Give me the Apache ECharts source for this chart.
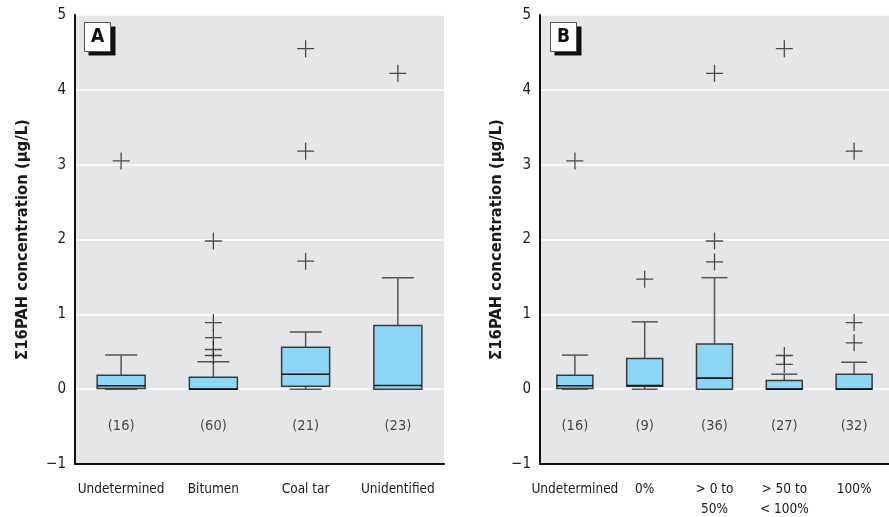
<!DOCTYPE html>
<html><head><meta charset="utf-8">
<script src="https://cdn.jsdelivr.net/npm/echarts@6/dist/echarts.min.js"></script>
<style>html,body{margin:0;padding:0;background:#fff}#c{width:889px;height:517px}</style>
</head><body><div id="c"></div>
<script>
// ---- data ----
var catsA = ['Undetermined', 'Bitumen', 'Coal tar', 'Unidentified'];
// [min, q1, median, q3, max]
var boxA = [
  [0, 0.01, 0.045, 0.185, 0.455],
  [0, 0, 0.0, 0.16, 0.365],
  [0, 0.04, 0.2, 0.56, 0.765],
  [0, 0, 0.05, 0.85, 1.49]
];
var outliersA = [[0, 3.05], [1, 0.45], [1, 0.53], [1, 0.69], [1, 0.89], [1, 1.98],
  [2, 1.71], [2, 3.18], [2, 4.55], [3, 4.22]];
var countsA = ['(16)', '(60)', '(21)', '(23)'];

var catsB = ['Undetermined', '0%', '> 0 to\n50%', '> 50 to\n< 100%', '100%'];
var boxB = [
  [0, 0.01, 0.045, 0.185, 0.455],
  [0, 0.04, 0.05, 0.41, 0.90],
  [0, 0, 0.148, 0.605, 1.49],
  [0, 0, 0, 0.117, 0.2],
  [0, 0, 0, 0.2, 0.36]
];
var outliersB = [[0, 3.05], [1, 1.47], [2, 1.70], [2, 1.98], [2, 4.22],
  [3, 0.33], [3, 0.45], [3, 4.55], [4, 0.62], [4, 0.89], [4, 3.18]];
var countsB = ['(16)', '(9)', '(36)', '(27)', '(32)'];

var yTicks = [-1, 0, 1, 2, 3, 4, 5];
var countLevel = -0.5;
var yName = '\u03A316PAH concentration (\u00B5g/L)';

// ---- chart ----
var FONT = '"DejaVu Sans Condensed", "Roboto", sans-serif';
var BG = '#e5e6e8';
var BOXFILL = '#8dd7f6';

function boxData(arr) { return arr.map(function (b, i) { return [i].concat(b); }); }
function countData(arr) { return arr.map(function (c, i) { return { value: [i, countLevel], name: c }; }); }

function makeRender(boxW, capW) {
  return function (params, api) {
    var i = api.value(0);
    var pMin = api.coord([i, api.value(1)]);
    var pQ1 = api.coord([i, api.value(2)]);
    var pMed = api.coord([i, api.value(3)]);
    var pQ3 = api.coord([i, api.value(4)]);
    var pMax = api.coord([i, api.value(5)]);
    var x = pMed[0];
    var wStyle = { stroke: '#555', lineWidth: 1.5 };
    return {
      type: 'group',
      children: [
        { type: 'line', shape: { x1: x, y1: pMax[1], x2: x, y2: pQ3[1] }, style: wStyle },
        { type: 'line', shape: { x1: x, y1: pMin[1], x2: x, y2: pQ1[1] }, style: wStyle },
        { type: 'line', shape: { x1: x - capW / 2, y1: pMax[1], x2: x + capW / 2, y2: pMax[1] }, style: wStyle },
        { type: 'line', shape: { x1: x - capW / 2, y1: pMin[1], x2: x + capW / 2, y2: pMin[1] }, style: wStyle },
        { type: 'rect', shape: { x: x - boxW / 2, y: pQ3[1], width: boxW, height: Math.max(pQ1[1] - pQ3[1], 0.5) },
          style: { fill: BOXFILL, stroke: '#3a3a3a', lineWidth: 1.5 } },
        { type: 'line', shape: { x1: x - boxW / 2, y1: pMed[1], x2: x + boxW / 2, y2: pMed[1] },
          style: { stroke: '#111', lineWidth: 1.6 } }
      ]
    };
  };
}

var plus = 'path://M0,7.4H16V8.6H0Z M7.4,0H8.6V16H7.4Z';

function xAxisCfg(cats, gi) {
  return {
    type: 'category', gridIndex: gi, data: cats,
    axisLine: { onZero: false, lineStyle: { color: '#111', width: 2 } },
    axisTick: { show: false },
    splitLine: { show: false },
    axisLabel: { color: '#1a1a1a', fontFamily: FONT, fontSize: 13.5, margin: 15, lineHeight: 20, interval: 0 }
  };
}
function yAxisCfg(gi, gap) {
  return {
    type: 'value', gridIndex: gi, min: -1, max: 5, interval: 1,
    name: yName, nameLocation: 'middle', nameGap: gap,
    nameTextStyle: { fontFamily: FONT, fontWeight: 'bold', fontSize: 16.5, color: '#1a1a1a' },
    axisLine: { show: true, onZero: false, lineStyle: { color: '#111', width: 2 } },
    axisTick: { show: false },
    splitLine: { show: true, lineStyle: { color: '#fff', width: 1.5 } },
    axisLabel: { color: '#1a1a1a', fontFamily: FONT, fontSize: 15, margin: 9,
      formatter: function (v) { return yTicks.indexOf(v) >= 0 ? String(v).replace('-', '\u2212') : ''; } }
  };
}

function panelLabel(txt, x, y) {
  return {
    type: 'group', left: x, top: y, z: 100,
    children: [
      { type: 'rect', shape: { x: 4, y: 4, width: 27, height: 29 }, style: { fill: '#111' } },
      { type: 'rect', shape: { x: 0, y: 0, width: 26, height: 29 }, style: { fill: '#fff', stroke: '#555', lineWidth: 1 } },
      { type: 'text', x: 13, y: 15, style: { text: txt, fontFamily: FONT, fontWeight: 'bold', fontSize: 19, fill: '#111', textAlign: 'center', textVerticalAlign: 'middle' } }
    ]
  };
}

var chart = echarts.init(document.getElementById('c'), null, { renderer: 'canvas' });
chart.setOption({
  animation: false,
  backgroundColor: '#fff',
  grid: [
    { left: 75, top: 15, width: 369, height: 449, show: true, backgroundColor: BG, borderWidth: 0, outerBoundsMode: 'none', containLabel: false },
    { left: 540, top: 15, width: 349, height: 449, show: true, backgroundColor: BG, borderWidth: 0, outerBoundsMode: 'none', containLabel: false }
  ],
  xAxis: [xAxisCfg(catsA, 0), xAxisCfg(catsB, 1)],
  yAxis: [yAxisCfg(0, 44), yAxisCfg(1, 35)],
  graphic: [panelLabel('A', 84, 22), panelLabel('B', 550, 22)],
  series: [
    { type: 'custom', xAxisIndex: 0, yAxisIndex: 0, data: boxData(boxA), renderItem: makeRender(48, 32), z: 3 },
    { type: 'custom', xAxisIndex: 1, yAxisIndex: 1, data: boxData(boxB), renderItem: makeRender(36, 26), z: 3 },
    { type: 'scatter', xAxisIndex: 0, yAxisIndex: 0, data: outliersA, symbol: plus, symbolSize: 17,
      itemStyle: { color: '#222' }, z: 4 },
    { type: 'scatter', xAxisIndex: 1, yAxisIndex: 1, data: outliersB, symbol: plus, symbolSize: 17,
      itemStyle: { color: '#222' }, z: 4 },
    { type: 'scatter', xAxisIndex: 0, yAxisIndex: 0, data: countData(countsA), symbolSize: 0,
      label: { show: true, position: 'inside', formatter: '{b}', color: '#1a1a1a', fontFamily: FONT, fontSize: 14.5 } },
    { type: 'scatter', xAxisIndex: 1, yAxisIndex: 1, data: countData(countsB), symbolSize: 0,
      label: { show: true, position: 'inside', formatter: '{b}', color: '#1a1a1a', fontFamily: FONT, fontSize: 14.5 } }
  ]
});
</script>
</body></html>
